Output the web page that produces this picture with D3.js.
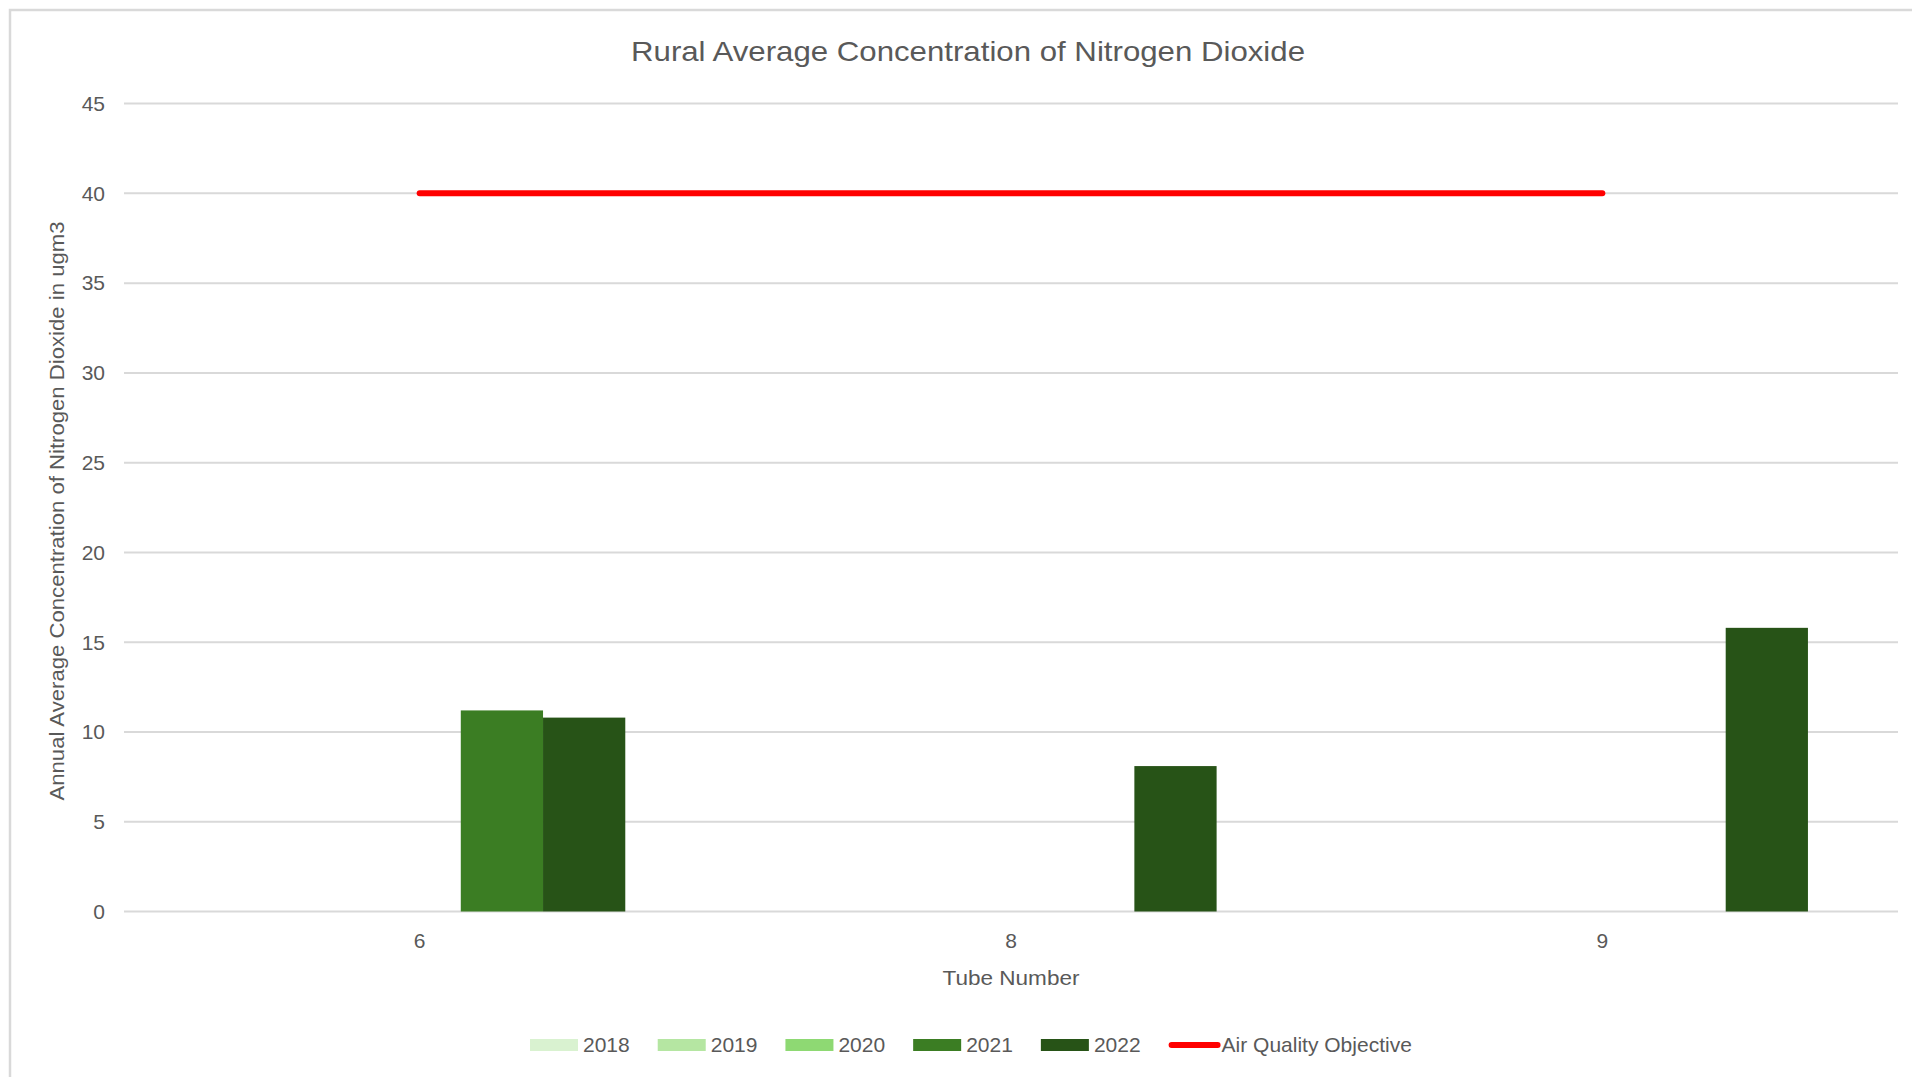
<!DOCTYPE html>
<html>
<head>
<meta charset="utf-8">
<script src="https://cdn.jsdelivr.net/npm/d3@7"></script>
<style>
  body { margin: 0; background: #fff; }
  text { fill: #595959; font-family: "Liberation Sans", Arial, sans-serif; }
</style>
</head>
<body>
<div id="chart"></div>
<script>
// chart data
var tubes = ["6", "8", "9"];
var years = ["2018", "2019", "2020", "2021", "2022"];
var yearColors = ["#d9f2d0", "#b5e6a2", "#8ed973", "#3b7d23", "#275317"];
// values per year, one entry per tube (null = no reading)
var values2018 = [null, null, null];
var values2019 = [null, null, null];
var values2020 = [null, null, null];
var values2021 = [11.2, null, null];
var values2022 = [10.8, 8.1, 15.8];
var objective = [40, 40, 40];
var yTicks = [0, 5, 10, 15, 20, 25, 30, 35, 40, 45];

var seriesValues = [values2018, values2019, values2020, values2021, values2022];

var width = 1912,
  height = 1077;

var svg = d3.select("#chart").append("svg")
  .attr("width", width)
  .attr("height", height);

// chart border (extends past the window on right/bottom)
svg.append("rect")
  .attr("x", 10).attr("y", 10)
  .attr("width", width + 20).attr("height", height + 20)
  .attr("fill", "none")
  .attr("stroke", "#d9d9d9")
  .attr("stroke-width", 2.5);

var plot = { left: 124, right: 1898, top: 103.6, bottom: 911.5 };

var x = d3.scaleBand()
  .domain(tubes)
  .range([plot.left, plot.right]);

var barW = x.bandwidth() / 7.19;
var xYear = d3.scaleBand()
  .domain(years)
  .range([-2.5 * barW, 2.5 * barW]);

var y = d3.scaleLinear()
  .domain([0, 45])
  .range([plot.bottom, plot.top]);

// gridlines
svg.append("g")
  .selectAll("line")
  .data(yTicks)
  .enter().append("line")
  .attr("x1", plot.left).attr("x2", plot.right)
  .attr("y1", d => y(d)).attr("y2", d => y(d))
  .attr("stroke", "#d9d9d9")
  .attr("stroke-width", 2);

// y tick labels
svg.append("g")
  .selectAll("text")
  .data(yTicks)
  .enter().append("text")
  .attr("x", 105)
  .attr("y", d => y(d))
  .attr("dy", "0.35em")
  .attr("text-anchor", "end")
  .style("font-size", "21px")
  .text(d => d);

// bars
var barData = [];
seriesValues.forEach((vals, i) => {
  vals.forEach((v, j) => {
    if (v !== null) barData.push({ year: years[i], tube: tubes[j], value: v, color: yearColors[i] });
  });
});

svg.append("g")
  .selectAll("rect")
  .data(barData)
  .enter().append("rect")
  .attr("x", d => x(d.tube) + x.bandwidth() / 2 + xYear(d.year))
  .attr("width", xYear.bandwidth())
  .attr("y", d => y(d.value))
  .attr("height", d => y(0) - y(d.value))
  .attr("fill", d => d.color);

// air quality objective line
var line = d3.line()
  .x((d, i) => x(tubes[i]) + x.bandwidth() / 2)
  .y(d => y(d));

svg.append("path")
  .datum(objective)
  .attr("d", line)
  .attr("fill", "none")
  .attr("stroke", "#ff0000")
  .attr("stroke-width", 6)
  .attr("stroke-linecap", "round");

// x tick labels
svg.append("g")
  .selectAll("text")
  .data(tubes)
  .enter().append("text")
  .attr("x", d => x(d) + x.bandwidth() / 2)
  .attr("y", 941)
  .attr("dy", "0.35em")
  .attr("text-anchor", "middle")
  .style("font-size", "21px")
  .text(d => d);

// titles
svg.append("text")
  .attr("x", 968).attr("y", 51)
  .attr("dy", "0.35em")
  .attr("text-anchor", "middle")
  .attr("textLength", 674)
  .attr("lengthAdjust", "spacingAndGlyphs")
  .style("font-size", "28px")
  .style("font-family", "'Liberation Sans Narrow', 'Liberation Sans', sans-serif")
  .text("Rural Average Concentration of Nitrogen Dioxide");

svg.append("text")
  .attr("x", 1011).attr("y", 978)
  .attr("dy", "0.35em")
  .attr("text-anchor", "middle")
  .attr("textLength", 137)
  .attr("lengthAdjust", "spacingAndGlyphs")
  .style("font-size", "21px")
  .text("Tube Number");

svg.append("text")
  .attr("transform", "translate(57,511) rotate(-90)")
  .attr("dy", "0.35em")
  .attr("text-anchor", "middle")
  .attr("textLength", 579)
  .attr("lengthAdjust", "spacingAndGlyphs")
  .style("font-size", "20px")
  .text("Annual Average Concentration of Nitrogen Dioxide in ugm3");

// legend
var legendItems = years.map((yr, i) => ({ label: yr, color: yearColors[i], type: "rect" }));
legendItems.push({ label: "Air Quality Objective", color: "#ff0000", type: "line" });

var legend = svg.append("g").attr("class", "legend");
var lx = 530, ly = 1045;
legendItems.forEach(item => {
  var g = legend.append("g");
  if (item.type === "rect") {
    g.append("rect")
      .attr("x", lx).attr("y", ly - 6)
      .attr("width", 48).attr("height", 12)
      .attr("fill", item.color);
  } else {
    g.append("line")
      .attr("x1", lx + 3).attr("x2", lx + 49)
      .attr("y1", ly).attr("y2", ly)
      .attr("stroke", item.color)
      .attr("stroke-width", 6)
      .attr("stroke-linecap", "round");
  }
  var t = g.append("text")
    .attr("x", lx + 53).attr("y", ly)
    .attr("dy", "0.35em")
    .style("font-size", "21px")
    .text(item.label);
  var w = t.node().getComputedTextLength();
  lx = lx + 53 + w + 28;
});
</script>
</body>
</html>
